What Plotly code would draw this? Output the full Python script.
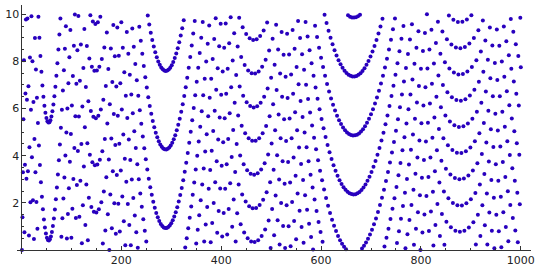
import math
import plotly.graph_objects as go

# Data: the reference is a point plot of (n, n*ln(n) mod 10) for n = 1..1000
# (identified from the picture: e.g. n=55 -> 0.40, n=56 -> 5.42, n=290 -> 4.27, n=670 -> 9.88)
n_values = list(range(1, 1001))
y_values = [(n * math.log(n)) % 10 for n in n_values]

x_tick_vals = [200, 400, 600, 800, 1000]
x_tick_text = ["200", "400", "600", "800", "1000"]
y_tick_vals = [2, 4, 6, 8, 10]
y_tick_text = ["2", "4", "6", "8", "10"]

x_range = [-8.9, 1020.4]
y_range = [-0.168, 10.391]

fig = go.Figure()
fig.add_trace(go.Scatter(
    x=n_values, y=y_values, mode="markers",
    marker=dict(size=4, color="rgb(40,0,190)", line=dict(width=0)),
    hoverinfo="skip", showlegend=False,
))

axis_font = dict(family="DejaVu Sans", size=11, color="#222222")

fig.update_layout(
    width=540, height=272,
    margin=dict(l=13, r=7, t=5, b=16),
    paper_bgcolor="white", plot_bgcolor="white",
    xaxis=dict(
        range=x_range, anchor="free",
        position=(0 - y_range[0]) / (y_range[1] - y_range[0]),
        showgrid=False, zeroline=False, showline=True, linecolor="#333333", linewidth=1,
        tickmode="array", tickvals=x_tick_vals, ticktext=x_tick_text,
        ticks="inside", ticklen=4, tickcolor="#333333", tickwidth=1,
        minor=dict(ticks="inside", dtick=50, tick0=0, ticklen=2, tickcolor="#333333", showgrid=False),
        tickfont=axis_font,
    ),
    yaxis=dict(
        range=y_range, anchor="free",
        position=(0 - x_range[0]) / (x_range[1] - x_range[0]),
        showgrid=False, zeroline=False, showline=True, linecolor="#333333", linewidth=1,
        tickmode="array", tickvals=y_tick_vals, ticktext=y_tick_text,
        ticks="inside", ticklen=4, tickcolor="#333333", tickwidth=1,
        minor=dict(ticks="inside", dtick=0.5, tick0=0, ticklen=2, tickcolor="#333333", showgrid=False),
        tickfont=axis_font,
    ),
)

fig.write_html("out.html")
